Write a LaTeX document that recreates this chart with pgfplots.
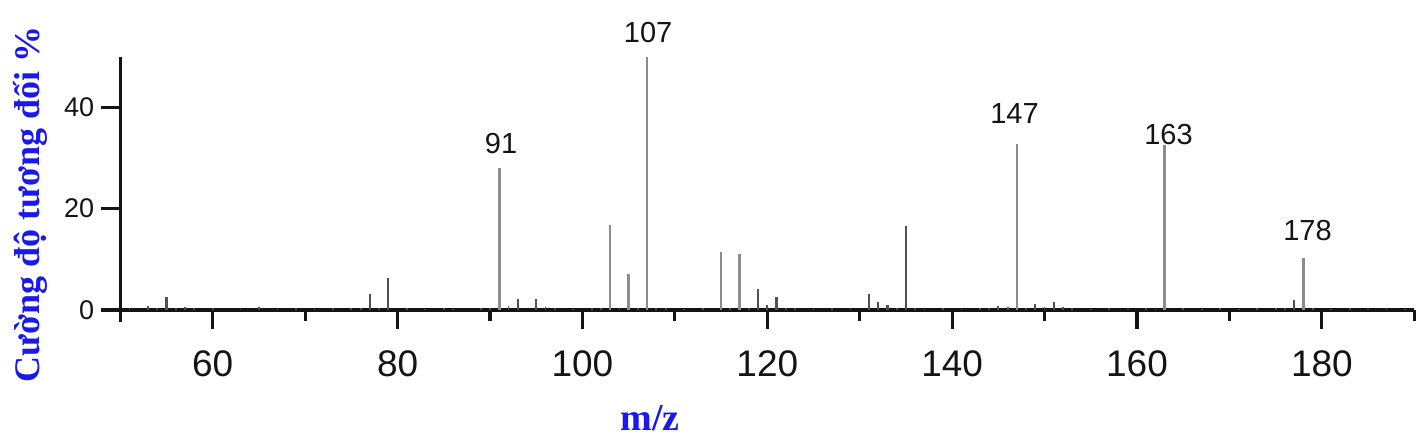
\documentclass[border=0pt]{standalone}
\usepackage{fontspec}
\setmainfont{Liberation Serif}
\newfontfamily\arial{Liberation Sans}
\usepackage{pgfplots}
\pgfplotsset{compat=1.18}
\definecolor{lblue}{RGB}{25,25,235}
\definecolor{pk}{RGB}{140,140,140}
\definecolor{pkd}{RGB}{80,80,80}
\definecolor{axc}{RGB}{20,20,20}
\begin{document}
\begin{tikzpicture}
\useasboundingbox (-60.15bp,-59.15bp) rectangle (653.85bp,160.85bp);
\begin{axis}[
  at={(0,0)}, anchor=south west, scale only axis,
  width=647bp, height=132.5bp,
  xmin=50, xmax=190, ymin=-2.3, ymax=50,
  axis x line=middle, axis y line=left,
  axis line style={-, line width=1.6bp, color=axc},
  hide obscured x ticks=false, hide obscured y ticks=false,
  xtick={60,80,...,180}, minor xtick={70,90,...,190},
  ytick={0,20,40},
  tick align=outside,
  major tick length=9.5bp, minor tick length=5.5bp,
  every tick/.style={line width=1.6bp, color=axc},
  /pgf/number format/assume math mode=true,
  xticklabel style={font=\arial\fontsize{18.5bp}{20bp}\selectfont, color=axc, yshift=-7.5bp},
  yticklabel style={font=\arial\fontsize{13.5bp}{15bp}\selectfont, color=axc},
  xlabel={m/z}, ylabel={Cường độ tương đối \%},
  xlabel style={at={(axis description cs:0.4094,-0.3638)}, anchor=center,
    font=\bfseries\fontsize{19bp}{21bp}\selectfont, color=lblue},
  ylabel style={at={(axis description cs:-0.0695,0.4423)}, anchor=center,
    font=\bfseries\fontsize{18bp}{20bp}\selectfont, color=lblue},
  clip=false,
]
% main (light gray) peaks
\addplot[ycomb, pk, line width=1.3bp] coordinates {
  (91,28) (103,16.8) (105,7.1) (107,50) (115,11.5) (117,11)
  (147,32.8) (163,32.6) (178,10.2)
};
% darker peaks
\addplot[ycomb, pkd, line width=1.1bp] coordinates {
  (55,2.6) (77,3.1) (79,6.4) (93,2.1) (95,2.2) (119,4.1) (120,1.0) (121,2.6)
  (131,3.2) (132,1.6) (133,1.0) (135,16.6) (149,1.2) (151,1.6) (177,2.0)
};
% small background peaks
\addplot[ycomb, pkd, line width=0.9bp] coordinates {
  (51,0.4) (53,0.7) (54,0.4) (56,0.4) (57,0.6) (58,0.4) (60,0.4) (63,0.3)
  (65,0.6) (67,0.3) (69,0.4) (71,0.3) (73,0.4) (75,0.4) (76,0.5) (78,0.5)
  (81,0.4) (83,0.3) (85,0.4) (86,0.3) (89,0.4) (90,0.5) (92,0.7) (96,0.6)
  (97,0.4) (99,0.3) (101,0.4) (102,0.4) (104,0.5) (106,0.4) (108,0.5) (109,0.4)
  (111,0.3) (113,0.4) (116,0.4) (118,0.5) (122,0.5) (123,0.4) (125,0.3) (127,0.4)
  (129,0.4) (134,0.5) (136,0.4) (137,0.3) (139,0.4) (141,0.3) (143,0.4) (144,0.4)
  (145,0.7) (146,0.6) (148,0.5) (150,0.6) (152,0.6) (153,0.4) (155,0.3) (157,0.4)
  (159,0.3) (161,0.4) (162,0.3) (165,0.4) (167,0.3) (169,0.4) (171,0.3) (173,0.4)
  (175,0.4) (176,0.5) (179,0.4) (181,0.3) (183,0.4) (185,0.3) (187,0.4) (189,0.3)
};
\node[font=\arial\fontsize{14.5bp}{16bp}\selectfont, color=axc] at (axis cs:91.2,32.8) {91};
\node[font=\arial\fontsize{14.5bp}{16bp}\selectfont, color=axc] at (axis cs:107.1,54.8) {107};
\node[font=\arial\fontsize{14.5bp}{16bp}\selectfont, color=axc] at (axis cs:146.75,38.7) {147};
\node[font=\arial\fontsize{14.5bp}{16bp}\selectfont, color=axc] at (axis cs:163.4,34.6) {163};
\node[font=\arial\fontsize{14.5bp}{16bp}\selectfont, color=axc] at (axis cs:178.45,15.6) {178};
\end{axis}
\end{tikzpicture}
\end{document}
